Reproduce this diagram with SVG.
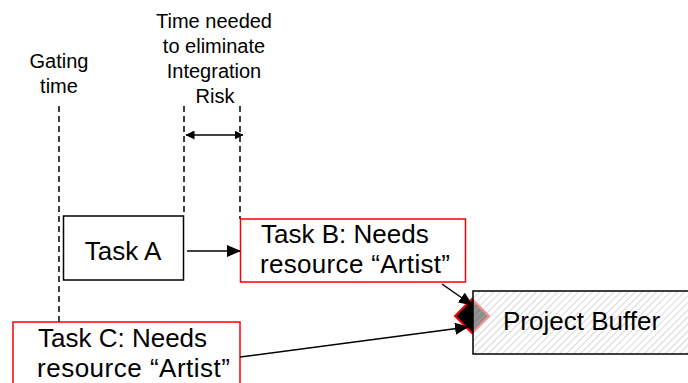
<svg xmlns="http://www.w3.org/2000/svg" width="688" height="383" viewBox="0 0 688 383">
<style>
.lbl{font-family:"Liberation Sans",Arial,sans-serif;font-size:20px;fill:#000;text-anchor:middle}
.big{font-family:"Liberation Sans",Arial,sans-serif;font-size:26px;fill:#000}
.box{fill:#fff;stroke:#000;stroke-width:1.5}
.rbox{fill:#fff;stroke:#ff0000;stroke-width:1.5}
.dash{stroke:#000;stroke-width:1.5;stroke-dasharray:6 4;fill:none}
.conn{stroke:#000;stroke-width:1.5;fill:none}
</style>
<defs>
<marker id="ah" markerWidth="14" markerHeight="12" refX="13" refY="6" orient="auto" markerUnits="userSpaceOnUse">
<path d="M0,0 L14,6 L0,12 Z" fill="#000"/>
</marker>
<marker id="as" markerWidth="9" markerHeight="9" refX="8.5" refY="4.5" orient="auto-start-reverse" markerUnits="userSpaceOnUse">
<path d="M0,0 L9,4.5 L0,9 Z" fill="#000"/>
</marker>
<pattern id="hatch" width="5" height="5" patternUnits="userSpaceOnUse" patternTransform="rotate(45)">
<line x1="0" y1="0" x2="0" y2="5" stroke="#b0b0b0" stroke-width="1"/>
</pattern>
</defs>

<g id="labels">
<text class="lbl" x="59" y="68">Gating</text>
<text class="lbl" x="59" y="93">time</text>
<text class="lbl" x="214" y="28">Time needed</text>
<text class="lbl" x="214" y="53">to eliminate</text>
<text class="lbl" x="214" y="78">Integration</text>
<text class="lbl" x="215" y="103">Risk</text>
</g>

<g id="guides">
<line class="dash" x1="59" y1="106" x2="59" y2="322"/>
<line class="dash" x1="184" y1="106" x2="184" y2="216"/>
<line class="dash" x1="240" y1="106" x2="240" y2="219"/>
</g>

<g id="taskA">
<rect class="box" x="63.5" y="216" width="120" height="64"/>
<text class="big" x="123" y="260" text-anchor="middle">Task A</text>
</g>

<g id="taskB">
<rect class="rbox" x="240.5" y="219" width="225" height="63"/>
<text class="big" x="261" y="243">Task B: Needs</text>
<text class="big" x="260" y="273" textLength="190" lengthAdjust="spacing">resource “Artist”</text>
</g>

<g id="taskC">
<rect class="rbox" x="13" y="322" width="227" height="70"/>
<text class="big" x="38" y="347">Task C: Needs</text>
<text class="big" x="37" y="377" textLength="193" lengthAdjust="spacing">resource “Artist”</text>
</g>

<g id="milestone">
<polygon points="455,316 472,299 489,316 472,333" fill="#000" stroke="#ff0000" stroke-width="2"/>
</g>

<g id="projectBuffer">
<rect x="473" y="291" width="230" height="63" fill="#fff" fill-opacity="0.55"/>
<rect x="473" y="291" width="230" height="63" fill="url(#hatch)" stroke="#000" stroke-width="1.5"/>
<text class="big" x="503" y="330">Project Buffer</text>
</g>

<g id="connectors">
<line class="conn" x1="186" y1="135" x2="243" y2="135" marker-start="url(#as)" marker-end="url(#as)"/>
<line class="conn" x1="187" y1="251" x2="240" y2="251" marker-end="url(#ah)"/>
<line class="conn" x1="442" y1="284" x2="472" y2="305" marker-end="url(#ah)"/>
<line class="conn" x1="240" y1="357" x2="468" y2="327" marker-end="url(#ah)"/>
</g>
</svg>
